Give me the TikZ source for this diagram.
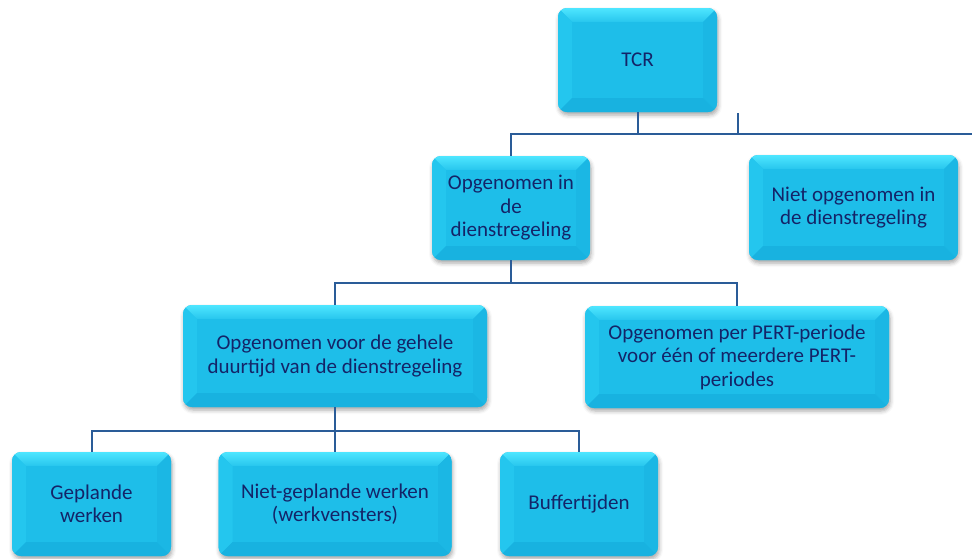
\documentclass[tikz,border=0pt]{standalone}
\usepackage{fontspec}
\setmainfont{Carlito}
\usetikzlibrary{calc,shadows.blur}

\definecolor{boxface}{RGB}{30,190,233}
\definecolor{bevtop}{RGB}{78,230,255}
\definecolor{bevleft}{RGB}{36,198,238}
\definecolor{bevright}{RGB}{27,183,228}
\definecolor{bevbottom}{RGB}{24,178,224}
\definecolor{ink}{RGB}{20,36,104}
\definecolor{linkc}{RGB}{42,92,152}

\tikzset{
  tree box/.style={
    rounded corners=9pt, fill=boxface, text=ink, align=center, inner sep=0pt,
    font=\fontsize{21}{23.5}\selectfont,
    blur shadow={shadow xshift=1pt, shadow yshift=-3pt, shadow opacity=35, shadow blur radius=4pt},
    path picture={
      \path (path picture bounding box.south west) coordinate (pSW)
            (path picture bounding box.north east) coordinate (pNE);
      \begin{scope}[sharp corners]
        % top bevel, lit from above
        \shade[top color=bevtop, bottom color=boxface!80!bevtop]
          (pSW|-pNE) -- (pNE) -- ($(pNE)+(-14pt,-14pt)$)
          -- ($(pSW|-pNE)+(14pt,-14pt)$) -- cycle;
        % left bevel
        \fill[bevleft] (pSW) -- (pSW|-pNE) -- ($(pSW|-pNE)+(14pt,-14pt)$)
          -- ($(pSW)+(14pt,14pt)$) -- cycle;
        % right bevel
        \fill[bevright] (pNE) -- (pNE|-pSW) -- ($(pNE|-pSW)+(-14pt,14pt)$)
          -- ($(pNE)+(-14pt,-14pt)$) -- cycle;
        % bottom bevel
        \fill[bevbottom] (pSW) -- (pNE|-pSW) -- ($(pNE|-pSW)+(-14pt,14pt)$)
          -- ($(pSW)+(14pt,14pt)$) -- cycle;
        % face
        \fill[boxface] ($(pSW)+(14pt,14pt)$) rectangle ($(pNE)+(-14pt,-14pt)$);
      \end{scope}
    }},
  link/.style={draw=linkc, line width=2pt}
}

\begin{document}
\begin{tikzpicture}[x=1pt,y=-1pt]
  \useasboundingbox (0,0) rectangle (972,558);

  % boxes
  \node[tree box, minimum width=159pt, minimum height=104pt] (tcr) at (637.5,60) {TCR};
  \node[tree box, minimum width=158pt, minimum height=104pt] (opgin) at (511,208)
    {Opgenomen in\\de\\dienstregeling};
  \node[tree box, minimum width=209pt, minimum height=105pt] (nietopg) at (853.5,207.5)
    {Niet opgenomen in\\de dienstregeling};
  \node[tree box, minimum width=304pt, minimum height=102pt] (geheel) at (335,356)
    {Opgenomen voor de gehele\\duurtijd van de dienstregeling};
  \node[tree box, minimum width=304pt, minimum height=102pt] (pert) at (737,357)
    {Opgenomen per PERT-periode\\voor één of meerdere PERT-\\periodes};
  \node[tree box, minimum width=159pt, minimum height=104pt] (gepl) at (91.5,504)
    {Geplande\\werken};
  \node[tree box, minimum width=233pt, minimum height=104pt] (nietgepl) at (335,504)
    {Niet-geplande werken\\(werkvensters)};
  \node[tree box, minimum width=158pt, minimum height=104pt] (buffer) at (579,504)
    {Buffertijden};

  % first level bus
  \coordinate (busR) at (972,134);
  \coordinate (stub) at (738,113);
  \draw[link] (tcr.south) -- (tcr.south |- busR);
  \draw[link] (stub) -- (stub |- busR);
  \draw[link] (opgin.north) |- (busR);

  % second level
  \coordinate (j2) at ($(opgin.south)+(0,23)$);
  \draw[link] (opgin.south) -- (j2);
  \draw[link] (geheel.north) |- (j2) -| (pert.north);

  % third level
  \coordinate (j3) at ($(geheel.south)+(0,24)$);
  \draw[link] (geheel.south) -- (nietgepl.north);
  \draw[link] (gepl.north) |- (j3) -| (buffer.north);
\end{tikzpicture}
\end{document}
